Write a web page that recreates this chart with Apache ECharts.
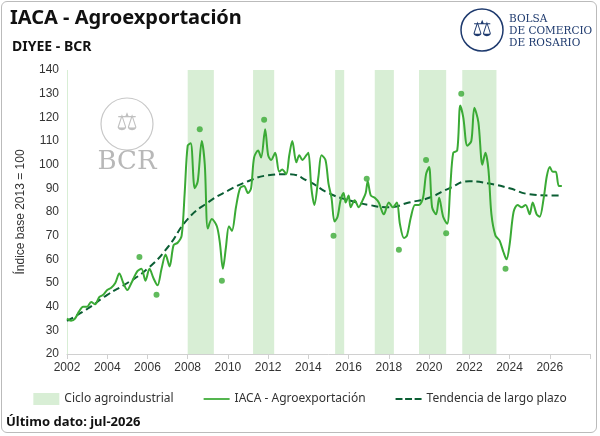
<!DOCTYPE html>
<html><head><meta charset="utf-8">
<script src="https://cdn.jsdelivr.net/npm/echarts@6/dist/echarts.min.js"></script>
<style>
html,body{margin:0;padding:0;background:#fff;}
#wrap{position:absolute;left:1px;top:1px;width:596px;height:432px;border:1px solid #bbb;border-radius:6px;box-sizing:border-box;}
#c{position:absolute;left:0;top:0;width:600px;height:436px;}
</style></head><body>
<div id="wrap"></div>
<div id="c"></div>
<script>
const iaca = [[2002.0,35],[2002.2,34],[2002.4,35],[2002.6,38],[2002.8,40],[2003.0,40],[2003.2,42],[2003.4,41],[2003.6,44],[2003.8,45],[2004.0,47],[2004.2,48],[2004.4,50],[2004.6,54],[2004.8,50],[2005.0,47],[2005.2,50],[2005.5,55],[2005.7,56],[2005.9,51],[2006.1,56],[2006.3,52],[2006.5,49],[2006.7,56],[2006.9,62],[2007.1,57],[2007.3,66],[2007.5,67],[2007.7,70],[2007.85,88],[2008.0,108],[2008.15,109],[2008.35,90],[2008.5,93],[2008.7,110],[2008.85,100],[2009.0,73],[2009.2,77],[2009.45,74],[2009.6,67],[2009.75,56],[2009.9,65],[2010.05,74],[2010.2,72],[2010.4,82],[2010.6,90],[2010.8,91],[2011.0,88],[2011.15,90],[2011.3,103],[2011.5,106],[2011.65,103],[2011.85,115],[2012.0,104],[2012.15,102],[2012.35,105],[2012.55,97],[2012.7,98],[2012.9,96],[2013.05,104],[2013.2,110],[2013.4,101],[2013.55,104],[2013.7,102],[2013.9,104],[2014.0,105],[2014.15,90],[2014.3,83],[2014.5,95],[2014.65,104],[2014.85,102],[2015.0,92],[2015.15,86],[2015.3,76],[2015.45,78],[2015.6,85],[2015.75,88],[2015.85,84],[2016.0,87],[2016.1,82],[2016.3,85],[2016.5,82],[2016.7,85],[2016.85,88],[2016.95,93],[2017.1,87],[2017.3,86],[2017.5,84],[2017.75,79],[2018.0,84],[2018.2,82],[2018.4,84],[2018.55,75],[2018.75,69],[2018.9,70],[2019.1,78],[2019.3,83],[2019.5,83],[2019.7,86],[2019.85,96],[2020.0,99],[2020.15,82],[2020.35,79],[2020.5,86],[2020.7,78],[2020.9,75],[2021.05,90],[2021.2,105],[2021.4,106],[2021.55,125],[2021.7,120],[2021.9,108],[2022.1,110],[2022.25,124],[2022.45,118],[2022.65,100],[2022.8,105],[2022.95,98],[2023.1,79],[2023.3,70],[2023.5,68],[2023.7,63],[2023.85,60],[2024.0,66],[2024.2,80],[2024.4,83],[2024.6,82],[2024.8,83],[2025.0,79],[2025.15,84],[2025.35,79],[2025.5,78],[2025.7,86],[2025.85,95],[2026.0,99],[2026.15,97],[2026.3,97],[2026.45,91],[2026.6,91]];
const trend = [[2002,34],[2003,39],[2004,45],[2005,50],[2006,56],[2007,65],[2008,77],[2009,84],[2010,89],[2011,93],[2012,95.5],[2013,96],[2014,93],[2015,88],[2016,85],[2017,83],[2018,82],[2019,84],[2020,86],[2021,90],[2022,93],[2023,92],[2024,90],[2025,87.5],[2026,87],[2026.6,87]];
const turningPoints = [[2005.6,61],[2006.45,45],[2008.6,115],[2009.7,51],[2011.8,119],[2015.25,70],[2016.9,94],[2018.5,64],[2019.85,102],[2020.85,71],[2021.6,130],[2023.8,56]];
const cycles = [[2001.95,2002.05],[2008.0,2009.3],[2011.25,2012.3],[2015.33,2015.78],[2017.3,2018.25],[2019.5,2020.85],[2021.65,2023.35]];
const xTicks = [2002,2004,2006,2008,2010,2012,2014,2016,2018,2020,2022,2024,2026];

const chart = echarts.init(document.getElementById('c'));
const green = '#3aaa35', dark = '#0b5e34', band = '#d8eed5';
chart.setOption({
  animation:false,
  graphic:[
    {type:'text',left:10,top:8,style:{text:'IACA - Agroexportación',font:'bold 20px "Noto Sans"',fill:'#111'}},
    {type:'text',left:12,top:40,style:{text:'DIYEE - BCR',font:'bold 14px "Noto Sans"',fill:'#111'}},
    {type:'text',left:6,top:416,style:{text:'Último dato: jul-2026',font:'bold 13px "Noto Sans"',fill:'#111'}},
    {type:'circle',shape:{cx:482,cy:30,r:21},style:{fill:'none',stroke:'#1e3a6e',lineWidth:1.5}},
    {type:'text',x:482,y:30,style:{text:'⚖',font:'22px "DejaVu Sans"',fill:'#1e3a6e',align:'center',verticalAlign:'middle'}},
    {type:'text',left:509,top:13,style:{text:'BOLSA\nDE COMERCIO\nDE ROSARIO',font:'10.5px "DejaVu Serif"',fill:'#1e3a6e',lineHeight:12}},
    {type:'circle',shape:{cx:127,cy:124,r:26},style:{fill:'none',stroke:'#c8c8c8',lineWidth:1.2}},
    {type:'text',x:127,y:124,style:{text:'⚖',font:'24px "DejaVu Sans"',fill:'#c0c0c0',align:'center',verticalAlign:'middle'}},
    {type:'text',x:127,y:162,style:{text:'BCR',font:'26px "DejaVu Serif"',fill:'#b8b8b8',align:'center',verticalAlign:'middle'}}
  ],
  grid:{left:67,right:10,top:70,bottom:82},
  legend:{bottom:26,left:'center',itemGap:30,itemWidth:26,itemHeight:12,textStyle:{fontSize:12,color:'#333',fontFamily:'Noto Sans'},
    data:[{name:'Ciclo agroindustrial',icon:'rect'},
      {name:'IACA - Agroexportación',icon:'path://M0,0h30v2h-30z'},
      {name:'Tendencia de largo plazo',icon:'path://M0,0h8v2.4h-8zM11,0h8v2.4h-8zM22,0h8v2.4h-8z'}]},
  xAxis:{type:'value',min:2002,max:2028,interval:2,
    axisLine:{lineStyle:{color:'#d0d0d0'}},axisTick:{show:true,lineStyle:{color:'#d0d0d0'}},
    splitLine:{show:false},
    axisLabel:{color:'#333',fontSize:12,formatter:v=>xTicks.includes(v)?String(v):''}},
  yAxis:{type:'value',min:20,max:140,interval:10,name:'Índice base 2013 = 100',nameLocation:'middle',nameGap:40,
    nameTextStyle:{color:'#333',fontSize:12},
    axisLine:{show:false},axisTick:{show:false},splitLine:{show:false},axisLabel:{color:'#333',fontSize:12}},
  series:[
    {name:'Ciclo agroindustrial',type:'line',data:[],itemStyle:{color:band},lineStyle:{color:band},
      markArea:{silent:true,itemStyle:{color:band},data:cycles.map(c=>[{xAxis:c[0]},{xAxis:c[1]}])}},
    {name:'Tendencia de largo plazo',type:'line',data:trend,smooth:true,symbol:'none',z:3,
      itemStyle:{color:dark},lineStyle:{color:dark,width:2,type:[7,4]}},
    {name:'IACA - Agroexportación',type:'line',data:iaca,smooth:0.3,symbol:'none',z:4,
      itemStyle:{color:green},lineStyle:{color:green,width:2}},
    {name:'pts',type:'scatter',data:turningPoints,symbolSize:6,itemStyle:{color:green},z:5}
  ]
});
</script></body></html>
